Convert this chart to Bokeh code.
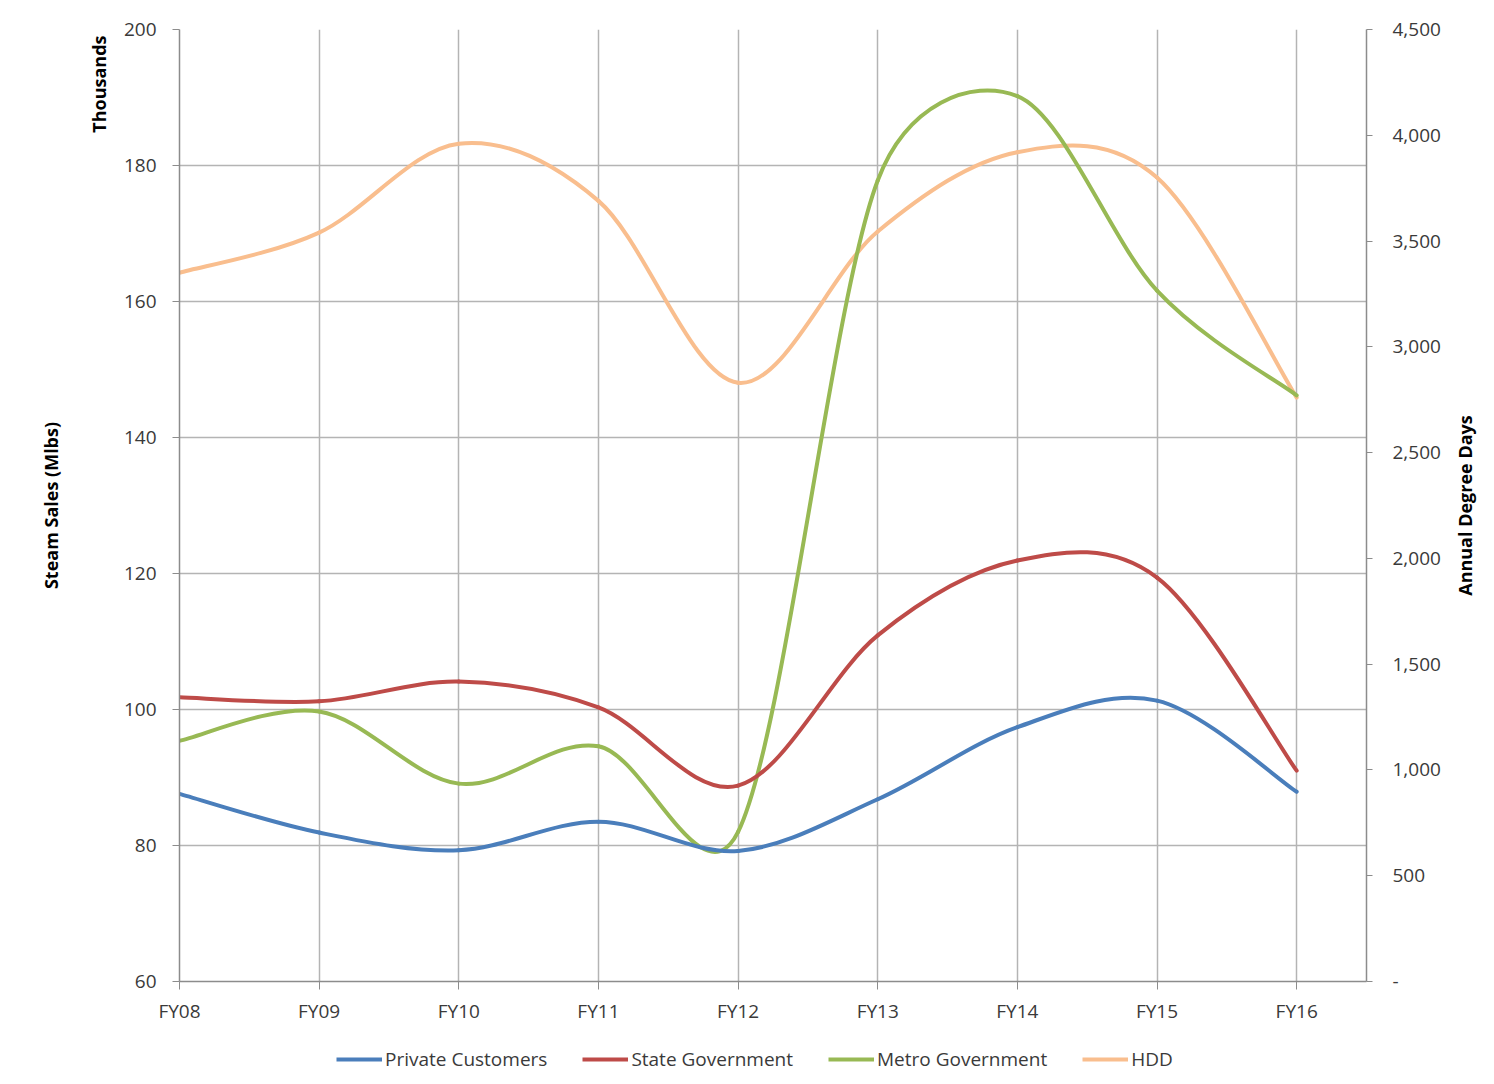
import math
from bokeh.plotting import figure
from bokeh.layouts import column, row
from bokeh.models import (Range1d, LinearAxis, FixedTicker, NumeralTickFormatter,
                          Legend, LegendItem, Title)
from bokeh.embed import file_html
from bokeh.resources import INLINE

# ---------------- data ----------------
categories = ["FY08", "FY09", "FY10", "FY11", "FY12", "FY13", "FY14", "FY15", "FY16"]
private_customers = [87.6, 81.9, 79.3, 83.5, 79.2, 86.8, 97.4, 101.3, 87.9]
state_government = [101.8, 101.2, 104.1, 100.3, 88.8, 110.9, 121.9, 119.4, 91.0]
metro_government = [95.4, 99.7, 89.1, 94.6, 82.0, 177.8, 190.2, 161.6, 146.2]
hdd = [3350, 3540, 3960, 3690, 2830, 3545, 3920, 3800, 2760]

left_ticks = [60, 80, 100, 120, 140, 160, 180, 200]
right_ticks = [0, 500, 1000, 1500, 2000, 2500, 3000, 3500, 4000, 4500]

# ---------------- layout constants ----------------
W_TOTAL = 1494
W_SIDE = 46                     # strip holding the right-hand axis title
W = W_TOTAL - W_SIDE
H_MAIN = 1030
H_LEG = 54
B_LEFT, B_TOP, B_BOTTOM = 179, 29, 49
FRAME_W = 1187
B_RIGHT = W - B_LEFT - FRAME_W
FRAME_H = H_MAIN - B_TOP - B_BOTTOM
X_END = 8.5
FONT = "Open Sans"

xs = list(range(len(categories)))

p = figure(width=W, height=H_MAIN,
           x_range=Range1d(0, X_END), y_range=Range1d(60, 200),
           output_backend="svg", toolbar_location=None,
           min_border_left=B_LEFT, min_border_right=B_RIGHT,
           min_border_top=B_TOP, min_border_bottom=B_BOTTOM,
           y_axis_location=None)
p.outline_line_color = None
p.background_fill_color = "white"
p.border_fill_color = "white"
p.extra_y_ranges = {"hdd": Range1d(0, 4500)}

GRID = "#b4b4b4"
AXIS = "#8c8c8c"
TXT = "#3a3a3a"
TICK_FS = "19px"
TITLE_FS = "18px"

# left axis
ly = LinearAxis(ticker=FixedTicker(ticks=left_ticks))
p.add_layout(ly, "left")
# right axis
ry = LinearAxis(y_range_name="hdd", ticker=FixedTicker(ticks=right_ticks),
                formatter=NumeralTickFormatter(format="0,0"))
ry.major_label_overrides = {0: "-"}
p.add_layout(ry, "right")

for ax in (ly, ry):
    ax.axis_line_color = AXIS
    ax.axis_line_width = 1.5
    ax.major_tick_line_color = AXIS
    ax.major_tick_in = 0
    ax.minor_tick_line_color = None
    ax.major_label_text_font = FONT
    ax.major_label_text_font_size = TICK_FS
    ax.major_label_text_color = TXT
ly.major_tick_out = 7
ly.major_label_standoff = 16
ry.major_tick_out = 6
ry.major_label_standoff = 20

xa = p.xaxis[0]
xa.ticker = FixedTicker(ticks=xs)
xa.major_label_overrides = {i: c for i, c in zip(xs, categories)}
xa.axis_line_color = AXIS
xa.axis_line_width = 1.5
xa.major_tick_line_color = AXIS
xa.major_tick_in = 0
xa.major_tick_out = 8
xa.minor_tick_line_color = None
xa.major_label_standoff = 8
xa.major_label_text_font = FONT
xa.major_label_text_font_size = TICK_FS
xa.major_label_text_color = TXT

p.xgrid.ticker = FixedTicker(ticks=xs)
p.ygrid.ticker = FixedTicker(ticks=left_ticks)
for g in (p.xgrid, p.ygrid):
    g.grid_line_color = GRID
    g.grid_line_width = 1.5


def side_title(text, align, standoff, offset=0):
    return Title(text=text, align=align, offset=offset, standoff=standoff,
                 text_font=FONT, text_font_size=TITLE_FS, text_font_style="bold",
                 text_color="black")


# left side titles (first added = closest to the frame)
p.add_layout(side_title("Thousands", "right", 19, 6), "left")
p.add_layout(side_title("Steam Sales (Mlbs)", "center", 26), "left")

# ---------------- smoothed lines (Excel-like bezier) ----------------
SX = FRAME_W / X_END
SY_LEFT = FRAME_H / 140.0
SY_RIGHT = FRAME_H / 4500.0


def smooth_segments(xv, yv, sx, sy):
    P = [(x * sx, y * sy) for x, y in zip(xv, yv)]
    n = len(P)
    out = dict(x0=[], y0=[], x1=[], y1=[], cx0=[], cy0=[], cx1=[], cy1=[])
    dist = lambda a, b: math.hypot(a[0] - b[0], a[1] - b[1])
    for i in range(n - 1):
        p0 = P[i - 1] if i > 0 else P[i]
        p1, p2 = P[i], P[i + 1]
        p3 = P[i + 2] if i + 2 < n else P[i + 1]
        d12 = dist(p1, p2)
        d02 = dist(p0, p2)
        d13 = dist(p1, p3)
        f = 1.0 / 6.0
        f0 = f if d02 / 6 < d12 / 2 else (d12 / d02 / 2 if d02 else 0)
        f1 = f if d13 / 6 < d12 / 2 else (d12 / d13 / 2 if d13 else 0)
        c1 = (p1[0] + (p2[0] - p0[0]) * f0, p1[1] + (p2[1] - p0[1]) * f0)
        c2 = (p2[0] - (p3[0] - p1[0]) * f1, p2[1] - (p3[1] - p1[1]) * f1)
        out["x0"].append(p1[0] / sx); out["y0"].append(p1[1] / sy)
        out["x1"].append(p2[0] / sx); out["y1"].append(p2[1] / sy)
        out["cx0"].append(c1[0] / sx); out["cy0"].append(c1[1] / sy)
        out["cx1"].append(c2[0] / sx); out["cy1"].append(c2[1] / sy)
    return out


series = [
    ("Private Customers", private_customers, "#4A7EBB", None, SY_LEFT),
    ("State Government", state_government, "#BE4B48", None, SY_LEFT),
    ("Metro Government", metro_government, "#98B954", None, SY_LEFT),
    ("HDD", hdd, "#F9BE8E", "hdd", SY_RIGHT),
]

for name, vals, color, rng, sy in reversed(series):
    seg = smooth_segments(xs, vals, SX, sy)
    kw = dict(line_color=color, line_width=4, line_cap="round")
    if rng:
        kw["y_range_name"] = rng
    p.bezier(source=seg, x0="x0", y0="y0", x1="x1", y1="y1",
             cx0="cx0", cy0="cy0", cx1="cx1", cy1="cy1", **kw)


def blank(width, height, **borders):
    f = figure(width=width, height=height, x_range=Range1d(0, 1), y_range=Range1d(0, 1),
               output_backend="svg", toolbar_location=None,
               x_axis_location=None, y_axis_location=None, **borders)
    f.grid.visible = False
    f.outline_line_color = None
    f.background_fill_color = "white"
    f.border_fill_color = "white"
    return f


# ---------------- right-hand axis title strip ----------------
r = blank(W_SIDE, H_MAIN, min_border_left=0, min_border_right=0,
          min_border_top=B_TOP, min_border_bottom=B_BOTTOM)
r.add_layout(side_title("Annual Degree Days", "center", 4), "left")

# ---------------- legend strip ----------------
q = blank(W_TOTAL, H_LEG, min_border_left=0, min_border_right=0,
          min_border_top=0, min_border_bottom=0)
items = []
for name, vals, color, rng, sy in series:
    # off-screen proxy line, only used for the legend swatch
    proxy = q.line(x=[-5, -4], y=[-5, -5], line_color=color, line_width=4)
    items.append(LegendItem(label=name, renderers=[proxy]))
legend = Legend(items=items, orientation="horizontal", location=(336, 12),
                label_text_font=FONT, label_text_font_size=TICK_FS, label_text_color=TXT,
                glyph_width=46, glyph_height=22, label_standoff=3, spacing=35,
                border_line_color=None, background_fill_alpha=0, margin=0, padding=4)
q.add_layout(legend)

layout = column(row(p, r, spacing=0), q, spacing=0)
open("out.html", "w").write(file_html(layout, INLINE))
